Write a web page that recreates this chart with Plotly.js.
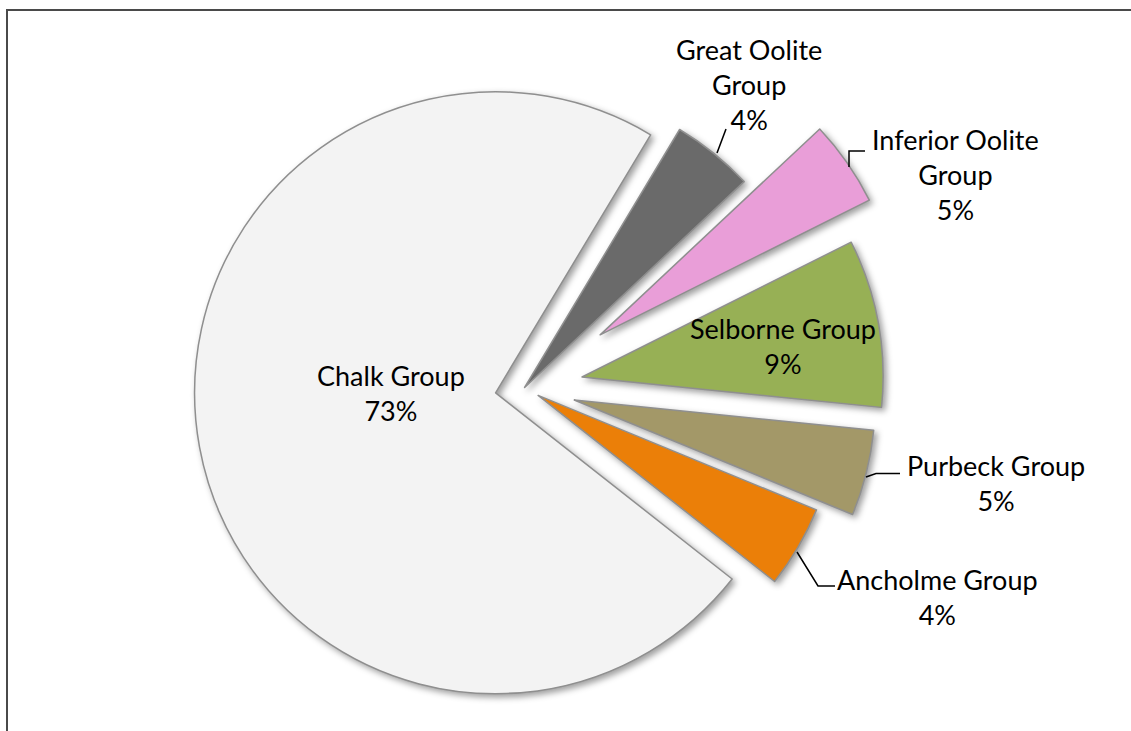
<!DOCTYPE html>
<html>
<head>
<meta charset="utf-8">
<script src="https://cdn.plot.ly/plotly-3.0.1.min.js"></script>
<style>
  html, body { margin: 0; padding: 0; overflow: hidden; background: #ffffff; }
  #chart { position: absolute; left: 0; top: -10px; width: 1131px; height: 800px; }
  #chart .pielayer .slice path.surface { filter: drop-shadow(3px 3px 3px rgba(0,0,0,0.38)); }
</style>
</head>
<body>
<div id="chart"></div>
<script>
// ---- data (clockwise order, starting after the Chalk slice) ----
const groups = ["Great Oolite Group", "Inferior Oolite Group", "Selborne Group", "Purbeck Group", "Ancholme Group", "Chalk Group"];
const shares = [4.4, 4.6, 9.0, 4.6, 4.4, 73.0];

// ---- styling / layout ----
const colors = ["#6a6a6a", "#e99ed8", "#97b055", "#a39868", "#eb7f08", "#f3f3f3"];
const pulls  = [0.0, 0.306, 0.194, 0.17, 0.052, 0.098];
const W = 1131, H = 800, OFF = 10;          // plot size and vertical shift of the div
const CX = 524.6, CY = 387.5, R = 301;      // pie centre and radius in screen pixels
const ROT = 31;

// label block centres (screen px) and leader lines (screen px)
const labelPos = [[749.5, 84.5], [955.5, 175], [782.5, 346.5], [995.8, 483.5], [937.8, 596.5], [390.8, 392.5]];
const leaders = [
  [[717,153],[726,129]],
  [[849,167],[849,151],[865,151]],
  null,
  [[866,477],[876,473.5],[900,473.5]],
  [[797,552],[818,586],[835,586]],
  null
];

const px = x => x / W;
const py = y => 1 - (y + OFF) / H;

const maxPull = Math.max(...pulls);
const half = R * (1 + maxPull);
const cyLayoutFromBottom = H - (CY + OFF);
const domain = {
  x: [(CX - half) / W, (CX + half) / W],
  y: [(cyLayoutFromBottom - half) / H, (cyLayoutFromBottom + half) / H]
};

const total = shares.reduce((a, b) => a + b, 0);
function wrapLabel(s) {
  if (s.length <= 15) return s;
  const i = s.lastIndexOf(" ");
  return s.slice(0, i) + "<br>" + s.slice(i + 1);
}

const FONT = { family: "Lato, 'Open Sans', sans-serif", size: 27, color: "#000000" };

const annotations = groups.map((g, i) => ({
  xref: "paper", yref: "paper",
  x: px(labelPos[i][0]), y: py(labelPos[i][1]),
  xanchor: "center", yanchor: "middle",
  showarrow: false,
  text: wrapLabel(g) + "<br>" + Math.round(shares[i] / total * 100) + "%",
  font: FONT, align: "center"
}));

const shapes = [];
leaders.forEach(pts => {
  if (!pts) return;
  let d = "M " + pts.map(p => px(p[0]) + "," + py(p[1])).join(" L ");
  shapes.push({ type: "path", xref: "paper", yref: "paper", path: d,
                line: { color: "#000000", width: 1.5 } });
});
// chart-area border (top and left edges visible)
shapes.push({ type: "rect", xref: "paper", yref: "paper",
  x0: px(7), x1: px(1200), y0: py(10), y1: py(900),
  line: { color: "#4a4a4a", width: 2 }, fillcolor: "rgba(0,0,0,0)" });

const trace = {
  type: "pie",
  labels: groups,
  values: shares,
  sort: false,
  direction: "clockwise",
  rotation: ROT,
  pull: pulls,
  marker: { colors: colors, line: { color: "#8f8f8f", width: 1.5 } },
  textinfo: "none",
  hoverinfo: "none",
  domain: domain
};

Plotly.newPlot("chart", [trace], {
  width: W, height: H,
  margin: { l: 0, r: 0, t: 0, b: 0 },
  showlegend: false,
  paper_bgcolor: "#ffffff",
  annotations: annotations,
  shapes: shapes
}, { staticPlot: true, displayModeBar: false });
</script>
</body>
</html>
